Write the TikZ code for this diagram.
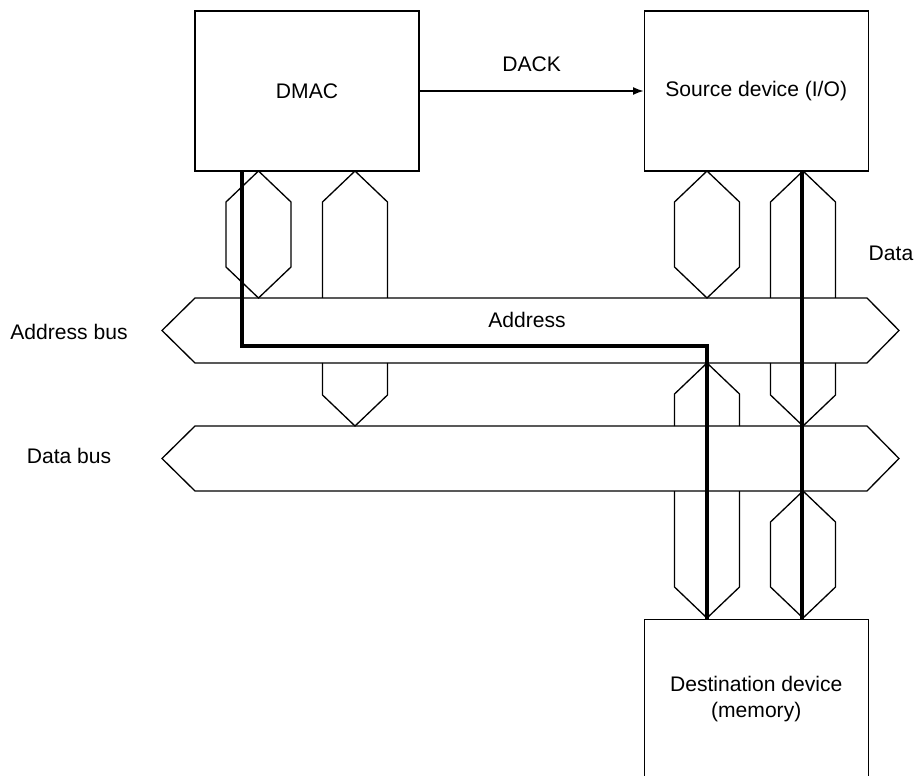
\documentclass[tikz,border=0pt]{standalone}
\usepackage{fontspec}
\setmainfont{Liberation Sans}
\usetikzlibrary{arrows.meta,calc,positioning}
\tikzset{
  devbox/.style={
    draw,
    line width=0.75pt,
    minimum width=4.48cm,
    minimum height=3.2cm,
    inner sep=0pt,
    align=center,
    font=\fontsize{12}{15}\selectfont
  },
  buslabel/.style={inner sep=0pt, font=\fontsize{12}{15}\selectfont},
  busshape/.style={draw, line width=0.75pt, line join=miter},
  arrow/.style={-{Latex[length=6pt,width=4.5pt]}, line width=0.75pt},
  datapath/.style={line width=2.6pt}
}

\begin{document}
\begin{tikzpicture}[x=0.02cm, y=-0.02cm]
  \useasboundingbox (0,0) rectangle (915,776);
  \node[devbox] (dmac) at (307,91) {DMAC};
  \node[devbox, right=4.48cm of dmac] (src) {Source device (I/O)};
  \node[devbox, below=8.94cm of src] (dest) {Destination device\\(memory)};
  \draw[arrow] (dmac) -- node[buslabel, above=0.38cm] (dack) {DACK} (src);
  % the two buses
  \foreach \y in {298,426}
    \draw[busshape] (195,\y) -- (867,\y) -- (899,{\y+32.5}) -- (867,{\y+65})
      -- (195,{\y+65}) -- (162,{\y+32.5}) -- cycle;
  \node[buslabel] (addrbus) at (69,332) {Address bus};
  \node[buslabel] (databus) at (69,456) {Data bus};
  \node[buslabel] (addrtext) at (527,320) {Address};
  \node[buslabel] (datatext) at (891,253) {Data};
  % two-way links
  \foreach \cx/\ya/\yb in {258.5/171/298, 707/171/298, 803/491/618}
    \draw[busshape] (\cx,\ya) -- ({\cx+32.5},{\ya+31}) -- ({\cx+32.5},{\yb-31}) -- (\cx,\yb)
      -- ({\cx-32.5},{\yb-31}) -- ({\cx-32.5},{\ya+31}) -- cycle;
  % one-way links, pointing up
  \foreach \cx/\ya/\yb in {355/171/298, 803/171/298, 707/363/426}
    \draw[busshape] ({\cx-32.5},\yb) -- ({\cx-32.5},{\ya+31}) -- (\cx,\ya)
      -- ({\cx+32.5},{\ya+31}) -- ({\cx+32.5},\yb);
  % one-way links, pointing down
  \foreach \cx/\ya/\yb in {355/363/426, 803/363/426, 707/491/618}
    \draw[busshape] ({\cx-32.5},\ya) -- ({\cx-32.5},{\yb-31}) -- (\cx,\yb)
      -- ({\cx+32.5},{\yb-31}) -- ({\cx+32.5},\ya);
  % transfer paths
  \coordinate (addrturn) at (242,346);
  \coordinate (destturn) at (707,346);
  \coordinate (dataline) at (802,0);
  \draw[datapath] (dmac.south -| addrturn) -- (addrturn) -- (destturn) -- (destturn |- dest.north);
  \draw[datapath] (src.south -| dataline) -- (dest.north -| dataline);
\end{tikzpicture}
\end{document}
